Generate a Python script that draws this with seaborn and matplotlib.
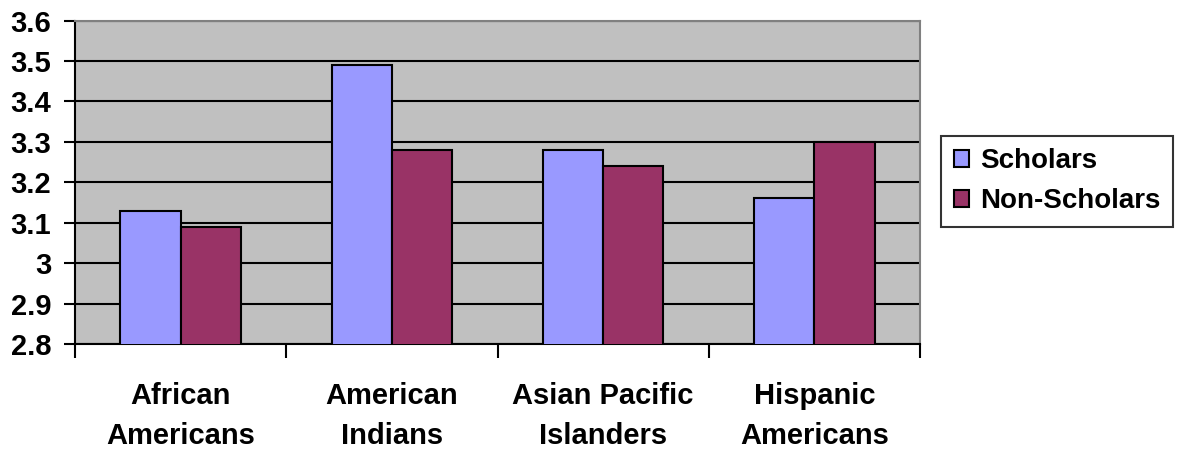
import matplotlib
matplotlib.use("Agg")
import matplotlib.pyplot as plt
import seaborn as sns
import pandas as pd
import numpy as np

categories = ["African\nAmericans", "American\nIndians", "Asian Pacific\nIslanders", "Hispanic\nAmericans"]
scholars = [3.13, 3.49, 3.28, 3.16]
non_scholars = [3.09, 3.28, 3.24, 3.30]
series_names = ["Scholars", "Non-Scholars"]
yticks = [2.8, 2.9, 3.0, 3.1, 3.2, 3.3, 3.4, 3.5, 3.6]
ytick_labels = ["2.8", "2.9", "3", "3.1", "3.2", "3.3", "3.4", "3.5", "3.6"]

df = pd.DataFrame({
    "category": categories * 2,
    "value": scholars + non_scholars,
    "series": [series_names[0]] * 4 + [series_names[1]] * 4,
})

sns.set_theme(style="ticks")
plt.rcParams["font.family"] = ["Liberation Sans", "DejaVu Sans"]
plt.rcParams["font.weight"] = "bold"
plt.rcParams["text.color"] = "black"
plt.rcParams["xtick.color"] = "black"
plt.rcParams["ytick.color"] = "black"

fig = plt.figure(figsize=(11.79, 4.49), dpi=100)
ax = fig.add_axes([75 / 1179, 1 - 344 / 449, (920 - 75) / 1179, (344 - 20.5) / 449])
ax.set_facecolor("#C0C0C0")

sns.barplot(data=df, x="category", y="value", hue="series",
            palette=["#9999FF", "#993366"], saturation=1, width=0.57, gap=0,
            edgecolor="black", linewidth=1.5, ax=ax, zorder=3,
            err_kws={"linewidth": 0})

ax.set_ylim(2.8, 3.6)
ax.set_xlim(-0.5, 3.5)
ax.set_yticks(yticks)
ax.set_yticklabels(ytick_labels, fontsize=21, fontweight="bold")
ax.yaxis.grid(True, color="black", linewidth=1.5, zorder=1)
ax.set_axisbelow(True)

ax.set_xticks(range(4))
ax.set_xticklabels(categories, fontsize=21, fontweight="bold", linespacing=1.55)
ax.tick_params(axis="x", which="major", length=0, pad=27)
ax.set_xticks(np.arange(-0.5, 4.0, 1.0), minor=True)
ax.tick_params(axis="x", which="minor", length=10, width=1.5, color="black", direction="out")
ax.tick_params(axis="y", length=8, width=1.5, color="black", direction="out", pad=9)
ax.set_xlabel("")
ax.set_ylabel("")

for s in ["left", "bottom"]:
    ax.spines[s].set_color("black")
    ax.spines[s].set_linewidth(1.5)
for s in ["top", "right"]:
    ax.spines[s].set_visible(True)
    ax.spines[s].set_color("#808080")
    ax.spines[s].set_linewidth(1.5)

leg = ax.legend(title=None, loc="upper left", bbox_to_anchor=(941 / 1179, 1 - 136 / 449),
                bbox_transform=fig.transFigure, frameon=True, fancybox=False,
                prop={"size": 20, "weight": "bold"}, handlelength=0.55, handleheight=0.55,
                handletextpad=0.4, borderpad=0.45, labelspacing=0.5, borderaxespad=0)
leg.get_frame().set_edgecolor("black")
leg.get_frame().set_linewidth(1.5)
for h in leg.legend_handles:
    h.set_edgecolor("black")
    h.set_linewidth(1.5)

fig.savefig("out.png", dpi=100, facecolor="white")
